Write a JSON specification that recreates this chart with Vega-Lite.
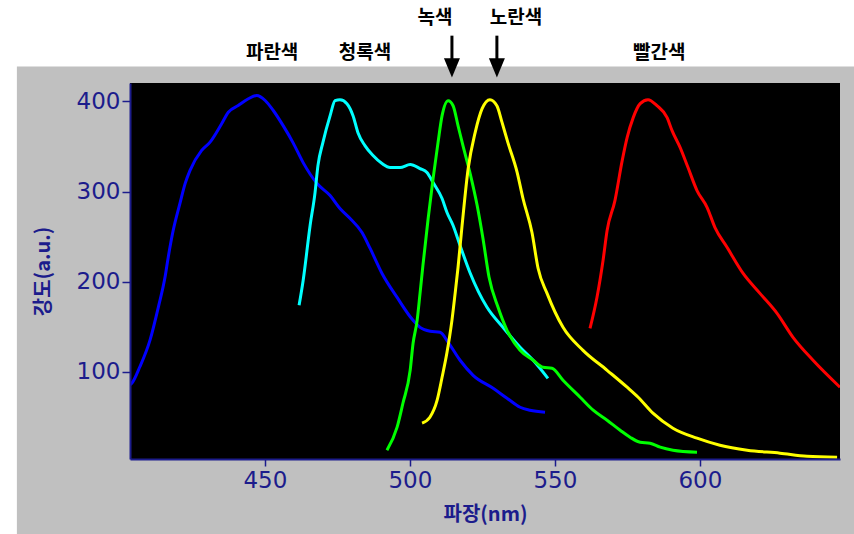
{
  "$schema": "https://vega.github.io/schema/vega-lite/v6.json",
  "width": 710,
  "height": 376,
  "autosize": {"type": "none"},
  "padding": {"left": 130, "top": 83, "right": 14, "bottom": 75},
  "background": "white",
  "config": {
    "view": {"stroke": null, "fill": null},
    "axis": {
      "grid": false,
      "domainColor": "#1c1c8c",
      "domainWidth": 2,
      "tickColor": "#1c1c8c",
      "tickWidth": 1.5,
      "tickSize": 8,
      "labelColor": "#1c1c8c",
      "labelFont": "DejaVu Sans",
      "labelFontSize": 23,
      "titleColor": "#1c1c8c",
      "titleFont": "Noto Sans CJK KR",
      "titleFontSize": 20,
      "titleFontWeight": "bold"
    }
  },
  "datasets": {
    "spectra": [
      {"s": "b", "wl": 403.6, "v": 86}, {"s": "b", "wl": 404.1, "v": 87.5}, {"s": "b", "wl": 406.9, "v": 105.8}, {"s": "b", "wl": 410.4, "v": 135.4}, {"s": "b", "wl": 413.3, "v": 172.3}, {"s": "b", "wl": 415.6, "v": 205.5}, {"s": "b", "wl": 416.7, "v": 227.6}, {"s": "b", "wl": 418.4, "v": 257.2}, {"s": "b", "wl": 420.7, "v": 286.7}, {"s": "b", "wl": 422.5, "v": 308.9}, {"s": "b", "wl": 424.2, "v": 323.6}, {"s": "b", "wl": 428.2, "v": 345.7}, {"s": "b", "wl": 431.1, "v": 354.9}, {"s": "b", "wl": 435.1, "v": 375.3}, {"s": "b", "wl": 437.4, "v": 388.1}, {"s": "b", "wl": 440.8, "v": 395.5}, {"s": "b", "wl": 444.3, "v": 403}, {"s": "b", "wl": 447.2, "v": 406.6}, {"s": "b", "wl": 450.1, "v": 401.1}, {"s": "b", "wl": 452.9, "v": 390}, {"s": "b", "wl": 456.3, "v": 373.2}, {"s": "b", "wl": 459.7, "v": 354.4}, {"s": "b", "wl": 463.2, "v": 332.2}, {"s": "b", "wl": 468, "v": 309}, {"s": "b", "wl": 472.5, "v": 295.7}, {"s": "b", "wl": 475.9, "v": 281.3}, {"s": "b", "wl": 479.4, "v": 270.2}, {"s": "b", "wl": 483.5, "v": 254.7}, {"s": "b", "wl": 486.3, "v": 237}, {"s": "b", "wl": 490.4, "v": 209.3}, {"s": "b", "wl": 495.6, "v": 182.7}, {"s": "b", "wl": 501.1, "v": 157.3}, {"s": "b", "wl": 503.5, "v": 149.5}, {"s": "b", "wl": 507, "v": 145.1}, {"s": "b", "wl": 510.4, "v": 144}, {"s": "b", "wl": 513.2, "v": 132.9}, {"s": "b", "wl": 517.3, "v": 113}, {"s": "b", "wl": 521.8, "v": 96.3}, {"s": "b", "wl": 528.7, "v": 81.9}, {"s": "b", "wl": 533.5, "v": 70.9}, {"s": "b", "wl": 538, "v": 60.9}, {"s": "b", "wl": 541.4, "v": 57.6}, {"s": "b", "wl": 546.6, "v": 55.4},
      {"s": "c", "wl": 461.8, "v": 173.9}, {"s": "c", "wl": 463.2, "v": 201.5}, {"s": "c", "wl": 465.6, "v": 262.5}, {"s": "c", "wl": 467.3, "v": 299}, {"s": "c", "wl": 468.3, "v": 328.9}, {"s": "c", "wl": 470, "v": 354.4}, {"s": "c", "wl": 472.5, "v": 384.3}, {"s": "c", "wl": 474.2, "v": 400.9}, {"s": "c", "wl": 475.9, "v": 402}, {"s": "c", "wl": 478.3, "v": 397.6}, {"s": "c", "wl": 480.4, "v": 384.3}, {"s": "c", "wl": 482.1, "v": 365.4}, {"s": "c", "wl": 484.5, "v": 351}, {"s": "c", "wl": 487.3, "v": 340}, {"s": "c", "wl": 490.4, "v": 331.1}, {"s": "c", "wl": 493.2, "v": 326.7}, {"s": "c", "wl": 496.6, "v": 326.7}, {"s": "c", "wl": 500.1, "v": 330}, {"s": "c", "wl": 503.5, "v": 325.6}, {"s": "c", "wl": 505.9, "v": 321.2}, {"s": "c", "wl": 508, "v": 310.1}, {"s": "c", "wl": 511.1, "v": 292.4}, {"s": "c", "wl": 512.8, "v": 276.9}, {"s": "c", "wl": 514.9, "v": 262.5}, {"s": "c", "wl": 517.3, "v": 240.3}, {"s": "c", "wl": 520.7, "v": 210.4}, {"s": "c", "wl": 526.6, "v": 171.7}, {"s": "c", "wl": 532.1, "v": 149.5}, {"s": "c", "wl": 538, "v": 127.4}, {"s": "c", "wl": 542.5, "v": 113}, {"s": "c", "wl": 547.6, "v": 93},
      {"s": "g", "wl": 492.1, "v": 13.3}, {"s": "g", "wl": 495.6, "v": 38.8}, {"s": "g", "wl": 497.6, "v": 65.3}, {"s": "g", "wl": 500.1, "v": 101.9}, {"s": "g", "wl": 501.1, "v": 131.8}, {"s": "g", "wl": 502.5, "v": 157.3}, {"s": "g", "wl": 503.5, "v": 187.2}, {"s": "g", "wl": 504.5, "v": 218.2}, {"s": "g", "wl": 506.3, "v": 270.2}, {"s": "g", "wl": 508, "v": 314.5}, {"s": "g", "wl": 509.7, "v": 354.4}, {"s": "g", "wl": 511.1, "v": 384.3}, {"s": "g", "wl": 513.2, "v": 400.9}, {"s": "g", "wl": 514.9, "v": 395.3}, {"s": "g", "wl": 516.6, "v": 373.2}, {"s": "g", "wl": 518.3, "v": 351}, {"s": "g", "wl": 520.7, "v": 321.2}, {"s": "g", "wl": 523.2, "v": 284.6}, {"s": "g", "wl": 525.2, "v": 248.1}, {"s": "g", "wl": 527.3, "v": 205}, {"s": "g", "wl": 530.4, "v": 171.7}, {"s": "g", "wl": 533.5, "v": 146.2}, {"s": "g", "wl": 538, "v": 124}, {"s": "g", "wl": 542.5, "v": 113}, {"s": "g", "wl": 545.9, "v": 105.2}, {"s": "g", "wl": 549, "v": 104.1}, {"s": "g", "wl": 552.8, "v": 90.8}, {"s": "g", "wl": 558.7, "v": 72}, {"s": "g", "wl": 563.2, "v": 57.6}, {"s": "g", "wl": 568, "v": 46.5}, {"s": "g", "wl": 572.5, "v": 35.4}, {"s": "g", "wl": 575.9, "v": 27.7}, {"s": "g", "wl": 579.4, "v": 22.1}, {"s": "g", "wl": 582.8, "v": 21}, {"s": "g", "wl": 586.3, "v": 16.6}, {"s": "g", "wl": 590.7, "v": 13.3}, {"s": "g", "wl": 599, "v": 11.1},
      {"s": "y", "wl": 504.2, "v": 43.2}, {"s": "y", "wl": 506.9, "v": 49.8}, {"s": "y", "wl": 509.4, "v": 68.7}, {"s": "y", "wl": 511.1, "v": 94.1}, {"s": "y", "wl": 512.8, "v": 121.8}, {"s": "y", "wl": 514.5, "v": 157.3}, {"s": "y", "wl": 515.6, "v": 187.2}, {"s": "y", "wl": 516.6, "v": 215.9}, {"s": "y", "wl": 518, "v": 262.5}, {"s": "y", "wl": 520.1, "v": 325.6}, {"s": "y", "wl": 522.5, "v": 365.4}, {"s": "y", "wl": 524.9, "v": 392}, {"s": "y", "wl": 527.6, "v": 402}, {"s": "y", "wl": 530, "v": 395.3}, {"s": "y", "wl": 531.8, "v": 376.5}, {"s": "y", "wl": 533.8, "v": 354.4}, {"s": "y", "wl": 537, "v": 321.2}, {"s": "y", "wl": 539, "v": 292.4}, {"s": "y", "wl": 542.1, "v": 254.7}, {"s": "y", "wl": 544.2, "v": 215}, {"s": "y", "wl": 547.3, "v": 187.2}, {"s": "y", "wl": 552.8, "v": 149.5}, {"s": "y", "wl": 559.7, "v": 124}, {"s": "y", "wl": 568, "v": 101.9}, {"s": "y", "wl": 574.9, "v": 83.1}, {"s": "y", "wl": 578.7, "v": 72}, {"s": "y", "wl": 583.8, "v": 54.3}, {"s": "y", "wl": 590.7, "v": 37.7}, {"s": "y", "wl": 599, "v": 26.6}, {"s": "y", "wl": 606.9, "v": 18.8}, {"s": "y", "wl": 616.3, "v": 13.3}, {"s": "y", "wl": 627.6, "v": 10}, {"s": "y", "wl": 636.9, "v": 6.6}, {"s": "y", "wl": 647.3, "v": 5.5},
      {"s": "r", "wl": 562.1, "v": 148.4}, {"s": "r", "wl": 564.5, "v": 182.7}, {"s": "r", "wl": 566.6, "v": 223.7}, {"s": "r", "wl": 568, "v": 256.9}, {"s": "r", "wl": 570.7, "v": 290.1}, {"s": "r", "wl": 573.2, "v": 334.4}, {"s": "r", "wl": 574.9, "v": 359.9}, {"s": "r", "wl": 577, "v": 382.1}, {"s": "r", "wl": 579.4, "v": 397.6}, {"s": "r", "wl": 582.1, "v": 402}, {"s": "r", "wl": 585.2, "v": 395.3}, {"s": "r", "wl": 588.7, "v": 382.1}, {"s": "r", "wl": 590.4, "v": 367.7}, {"s": "r", "wl": 593.2, "v": 348.8}, {"s": "r", "wl": 595.9, "v": 326.7}, {"s": "r", "wl": 599, "v": 301.2}, {"s": "r", "wl": 602.5, "v": 282.4}, {"s": "r", "wl": 605.2, "v": 260.2}, {"s": "r", "wl": 609.4, "v": 238.1}, {"s": "r", "wl": 614.9, "v": 209.3}, {"s": "r", "wl": 620.7, "v": 187.2}, {"s": "r", "wl": 626.6, "v": 165}, {"s": "r", "wl": 632.1, "v": 138.4}, {"s": "r", "wl": 639, "v": 113}, {"s": "r", "wl": 648.3, "v": 83.1}
    ],
    "lowLabels": [
      {"name": "파란색", "wl": 452.5},
      {"name": "청록색", "wl": 484.5},
      {"name": "빨간색", "wl": 586}
    ],
    "arrows": [
      {"name": "녹색", "wl": 514.5},
      {"name": "노란색", "wl": 530}
    ]
  },
  "layer": [
    {
      "data": {"values": [{}]},
      "mark": {"type": "rect", "fill": "#c0c0c0"},
      "encoding": {
        "x": {"datum": 364.5, "type": "quantitative"},
        "x2": {"datum": 720},
        "y": {"datum": -120, "type": "quantitative"},
        "y2": {"datum": 438.7}
      }
    },
    {
      "data": {"values": [{}]},
      "mark": {"type": "rect", "fill": "black"},
      "encoding": {
        "x": {"datum": 403.5, "type": "quantitative"},
        "x2": {"datum": 648.3},
        "y": {"datum": 3.5, "type": "quantitative"},
        "y2": {"datum": 420.5}
      }
    },
    {
      "data": {"name": "spectra"},
      "mark": {"type": "line", "strokeWidth": 3, "clip": true, "interpolate": "monotone"},
      "encoding": {
        "x": {
          "field": "wl", "type": "quantitative",
          "scale": {"domain": [403.5, 648.3], "nice": false, "zero": false},
          "axis": {"zindex": 1, "title": "파장(nm)", "values": [450, 500, 550, 600], "tickSize": 7, "labelPadding": 3, "titlePadding": 12}
        },
        "y": {
          "field": "v", "type": "quantitative",
          "scale": {"domain": [3.5, 420.5], "nice": false, "zero": false},
          "axis": {"zindex": 1, "title": "강도(a.u.)", "values": [100, 200, 300, 400], "labelPadding": 2, "titlePadding": 23}
        },
        "color": {
          "field": "s", "type": "nominal",
          "scale": {"domain": ["b", "c", "g", "y", "r"], "range": ["#0000ff", "#00ffff", "#00ff00", "#ffff00", "#ff0000"]},
          "legend": null
        }
      }
    },
    {
      "data": {"name": "lowLabels"},
      "mark": {"type": "text", "font": "Noto Sans CJK KR", "fontSize": 19, "fontWeight": "bold", "color": "black", "baseline": "middle"},
      "encoding": {
        "x": {"field": "wl", "type": "quantitative"},
        "y": {"datum": 454},
        "text": {"field": "name"}
      }
    },
    {
      "data": {"name": "arrows"},
      "mark": {"type": "rule", "color": "black", "strokeWidth": 3},
      "encoding": {
        "x": {"field": "wl", "type": "quantitative"},
        "y": {"datum": 473},
        "y2": {"datum": 443}
      }
    },
    {
      "data": {"name": "arrows"},
      "mark": {"type": "point", "shape": "M-1,-1.2L1,-1.2L0,1.2Z", "size": 256, "filled": true, "color": "black", "opacity": 1},
      "encoding": {
        "x": {"field": "wl", "type": "quantitative"},
        "y": {"datum": 437.2}
      }
    },
    {
      "data": {"name": "arrows"},
      "transform": [{"filter": "datum.name === '녹색'"}],
      "mark": {"type": "text", "font": "Noto Sans CJK KR", "fontSize": 19, "fontWeight": "bold", "color": "black", "baseline": "middle", "dx": -17},
      "encoding": {
        "x": {"field": "wl", "type": "quantitative"},
        "y": {"datum": 492.4},
        "text": {"field": "name"}
      }
    },
    {
      "data": {"name": "arrows"},
      "transform": [{"filter": "datum.name === '노란색'"}],
      "mark": {"type": "text", "font": "Noto Sans CJK KR", "fontSize": 19, "fontWeight": "bold", "color": "black", "baseline": "middle", "dx": 19},
      "encoding": {
        "x": {"field": "wl", "type": "quantitative"},
        "y": {"datum": 492.4},
        "text": {"field": "name"}
      }
    }
  ]
}
